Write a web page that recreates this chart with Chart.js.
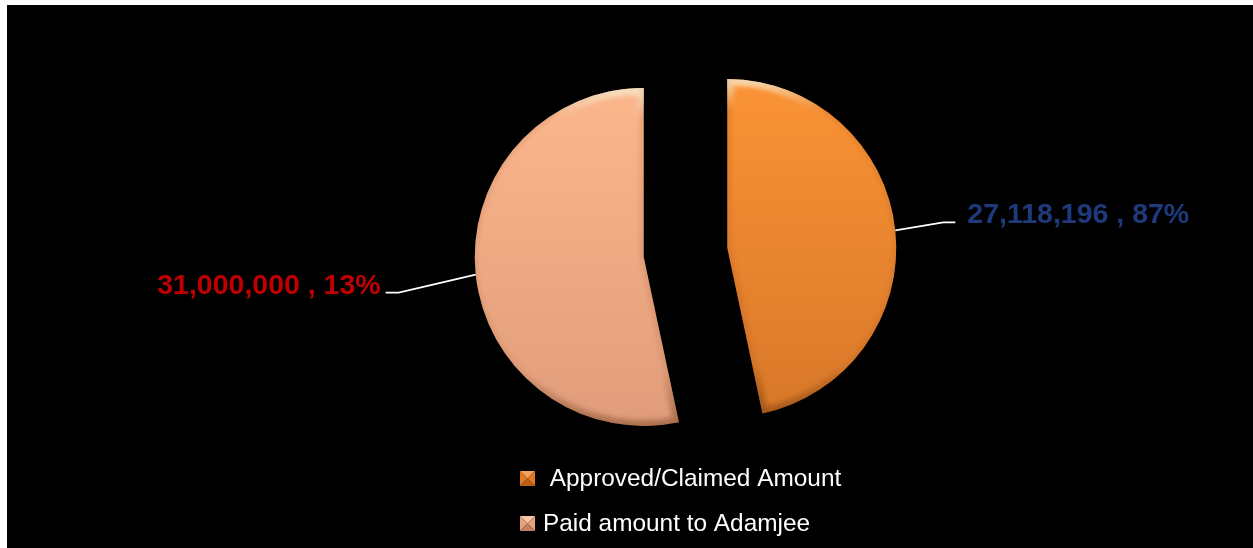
<!DOCTYPE html>
<html>
<head>
<meta charset="utf-8">
<title>Claim amounts</title>
<script src="https://cdn.jsdelivr.net/npm/chart.js@4/dist/chart.umd.min.js"></script>
<style>
  html, body { margin: 0; padding: 0; background: #ffffff; }
  #wrap { position: absolute; left: 0; top: 0; width: 1253px; height: 548px; }
</style>
</head>
<body>
<div id="wrap"><canvas id="c" width="1253" height="548"></canvas></div>
<script>
// ---- data ----
const categories = ['Approved/Claimed Amount', 'Paid amount to Adamjee'];
const amounts = [27118196, 31000000];
const percentLabels = ['87%', '13%'];

// ---- styling ----
const sliceTop = ['#FF9637', '#FFBA8E'];
const sliceBottom = ['#D27427', '#DE9A79'];
const valueColors = ['#1F3A7C', '#C00000'];
const legendIconColors = [
  { top: '#F6A25A', side: '#E07B22', bottom: '#B85E16' },
  { top: '#F7C6A6', side: '#E6A07E', bottom: '#C57E60' }
];
const PIE_RADIUS = 169;      // slice radius in px
const EXPLODE = 42;          // distance each slice is pulled out from the centre
// leader line: elbow offset from the slice edge, horizontal run, gap to the text
const leaderLayout = [
  { dx: 48, dy: -8, run: 12, gap: 12 },
  { dx: -77, dy: 18, run: 13, gap: 5 }
];
const valueFont = "bold 28.5px 'Liberation Sans', Arial, sans-serif";
const legendFont = "24.4px 'Liberation Sans', Arial, sans-serif";

function fmt(n) { return n.toLocaleString('en-US'); }

const framePlugin = {
  id: 'frame',
  beforeDraw(chart) {
    const { ctx, width, height } = chart;
    ctx.save();
    ctx.fillStyle = '#ffffff';
    ctx.fillRect(0, 0, width, height);
    ctx.fillStyle = '#000000';
    ctx.fillRect(7, 5, width - 7, height - 5);
    ctx.restore();
  }
};

// pull each slice straight out along its bisector (exploded pie)
const explodePlugin = {
  id: 'explode',
  afterDatasetUpdate(chart, args) {
    args.meta.data.forEach(arc => {
      const mid = (arc.startAngle + arc.endAngle) / 2;
      arc.x += Math.cos(mid) * EXPLODE;
      arc.y += Math.sin(mid) * EXPLODE;
    });
  }
};

// soft rounded-bevel shading on top of each slice
const bevelPlugin = {
  id: 'bevel',
  afterDatasetsDraw(chart) {
    const { ctx } = chart;
    const meta = chart.getDatasetMeta(0);
    meta.data.forEach(arc => {
      const cx = arc.x, cy = arc.y, R = arc.outerRadius;
      const path = () => {
        ctx.beginPath();
        ctx.moveTo(cx, cy);
        ctx.arc(cx, cy, R, arc.startAngle, arc.endAngle);
        ctx.closePath();
      };
      ctx.save();
      path();
      ctx.clip();
      ctx.filter = 'blur(2.5px)';
      const g = ctx.createLinearGradient(0, cy - R, 0, cy + R);
      g.addColorStop(0, 'rgba(255,252,225,0.85)');
      g.addColorStop(0.09, 'rgba(255,250,230,0.0)');
      g.addColorStop(0.85, 'rgba(0,0,0,0)');
      g.addColorStop(1, 'rgba(70,25,0,0.30)');
      ctx.lineWidth = 12;
      ctx.strokeStyle = g;
      path();
      ctx.stroke();
      // gentle shading along the straight cut edges
      ctx.lineWidth = 8;
      ctx.strokeStyle = 'rgba(120,50,10,0.13)';
      ctx.beginPath();
      ctx.moveTo(cx + Math.cos(arc.startAngle) * R, cy + Math.sin(arc.startAngle) * R);
      ctx.lineTo(cx, cy);
      ctx.lineTo(cx + Math.cos(arc.endAngle) * R, cy + Math.sin(arc.endAngle) * R);
      ctx.stroke();
      // rim
      ctx.lineWidth = 4;
      ctx.strokeStyle = 'rgba(110,45,5,0.15)';
      ctx.beginPath();
      ctx.arc(cx, cy, R, arc.startAngle, arc.endAngle);
      ctx.stroke();
      ctx.restore();
    });
  }
};

const valueLabelPlugin = {
  id: 'valueLabels',
  afterDraw(chart) {
    const { ctx } = chart;
    const meta = chart.getDatasetMeta(0);
    meta.data.forEach((arc, i) => {
      const mid = (arc.startAngle + arc.endAngle) / 2;
      const ax = arc.x + Math.cos(mid) * arc.outerRadius;
      const ay = arc.y + Math.sin(mid) * arc.outerRadius;
      const L = leaderLayout[i];
      const side = Math.cos(mid) >= 0 ? 1 : -1;
      const ex = ax + L.dx, ey = ay + L.dy;
      const hx = ex + side * L.run;
      ctx.save();
      ctx.strokeStyle = '#ffffff';
      ctx.lineWidth = 1.6;
      ctx.beginPath();
      ctx.moveTo(ax, ay);
      ctx.lineTo(ex, ey);
      ctx.lineTo(hx, ey);
      ctx.stroke();
      ctx.font = valueFont;
      ctx.fillStyle = valueColors[i];
      ctx.textBaseline = 'alphabetic';
      ctx.textAlign = side > 0 ? 'left' : 'right';
      const value = chart.data.datasets[0].data[i];
      ctx.fillText(fmt(value) + ' , ' + percentLabels[i], hx + side * L.gap, ey + 1);
      ctx.restore();
    });
  }
};

const legendPlugin = {
  id: 'stackedLegend',
  afterDraw(chart) {
    const { ctx } = chart;
    const x0 = 520, size = 15;
    const rows = [486, 531];
    chart.data.labels.forEach((label, i) => {
      const base = rows[i];
      const top = base - 15;
      const c = legendIconColors[i];
      const mx = x0 + size / 2, my = top + size / 2;
      const tri = (pts, col) => {
        ctx.beginPath();
        ctx.moveTo(pts[0][0], pts[0][1]);
        ctx.lineTo(pts[1][0], pts[1][1]);
        ctx.lineTo(pts[2][0], pts[2][1]);
        ctx.closePath();
        ctx.fillStyle = col;
        ctx.fill();
      };
      ctx.save();
      tri([[x0, top], [x0 + size, top], [mx, my]], c.top);
      tri([[x0, top], [x0, top + size], [mx, my]], c.side);
      tri([[x0 + size, top], [x0 + size, top + size], [mx, my]], c.side);
      tri([[x0, top + size], [x0 + size, top + size], [mx, my]], c.bottom);
      ctx.font = legendFont;
      ctx.fillStyle = '#ffffff';
      ctx.textBaseline = 'alphabetic';
      ctx.textAlign = 'left';
      ctx.fillText((i === 0 ? ' ' : '') + label, 543, base);
      ctx.restore();
    });
  }
};

function sliceFill(context) {
  const i = context.dataIndex;
  const area = context.chart.chartArea;
  if (!area) return sliceTop[i];
  const cy = (area.top + area.bottom) / 2;
  const g = context.chart.ctx.createLinearGradient(0, cy - PIE_RADIUS - EXPLODE, 0, cy + PIE_RADIUS + EXPLODE);
  g.addColorStop(0, sliceTop[i]);
  g.addColorStop(1, sliceBottom[i]);
  return g;
}

new Chart(document.getElementById('c'), {
  type: 'pie',
  data: {
    labels: categories,
    datasets: [{
      data: amounts,
      backgroundColor: sliceFill,
      borderWidth: 0,
      offset: 0,
      hoverOffset: 0
    }]
  },
  options: {
    responsive: false,
    animation: false,
    events: [],
    radius: PIE_RADIUS,
    layout: { padding: { left: 118, right: 0, top: 0, bottom: 43 } },
    plugins: {
      legend: { display: false },
      tooltip: { enabled: false }
    }
  },
  plugins: [framePlugin, explodePlugin, bevelPlugin, valueLabelPlugin, legendPlugin]
});
</script>
</body>
</html>
